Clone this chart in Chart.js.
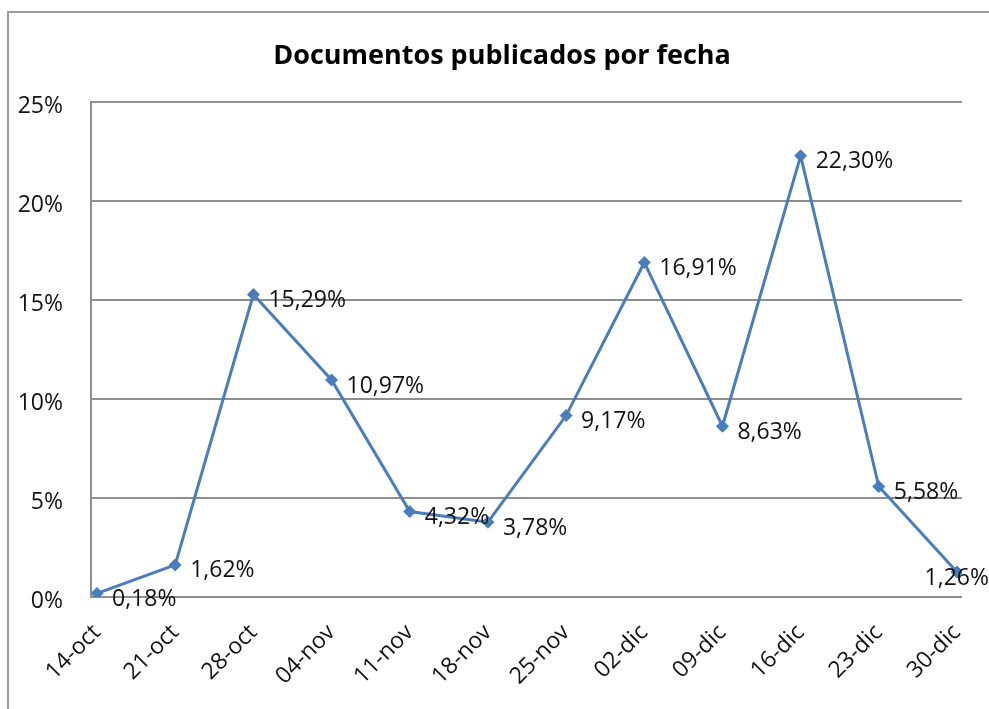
<!DOCTYPE html>
<html>
<head>
<meta charset="utf-8">
<script src="https://cdn.jsdelivr.net/npm/chart.js@4.4.0/dist/chart.umd.min.js"></script>
<style>
	html, body { margin: 0; padding: 0; background: #fff; }
	#frame {
		position: absolute; left: 7px; top: 11px; width: 1000px; height: 720px;
		border: 2px solid #9a9a9a;
	}
	#wrap { position: absolute; left: 0; top: 0; width: 989px; height: 709px; }
</style>
</head>
<body>
<div id="frame"></div>
<div id="wrap"><canvas id="chart" width="989" height="709"></canvas></div>
<script>
const dates = ['14-oct', '21-oct', '28-oct', '04-nov', '11-nov', '18-nov', '25-nov', '02-dic', '09-dic', '16-dic', '23-dic', '30-dic']
const shares = [0.18, 1.62, 15.29, 10.97, 4.32, 3.78, 9.17, 16.91, 8.63, 22.30, 5.58, 1.26]
const yTicks = [0, 5, 10, 15, 20, 25]

const BLUE = '#4a7ebb'
const GRID = '#8e8e8e'
const FONT = '"Open Sans", "DejaVu Sans", sans-serif'

const fmt = (v) => v.toFixed(2).replace('.', ',') + '%'

// labels to the right of every point, pushed back in at the right edge
const pointLabels = {
	id: 'pointLabels',
	afterDatasetsDraw(chart) {
		const ctx = chart.ctx
		const meta = chart.getDatasetMeta(0)
		ctx.save()
		ctx.font = '23px ' + FONT
		ctx.fillStyle = '#111'
		ctx.textBaseline = 'middle'
		ctx.textAlign = 'left'
		meta.data.forEach((p, i) => {
			const txt = fmt(shares[i])
			const w = ctx.measureText(txt).width
			let x = p.x + 15
			if (x + w > chart.width) x = chart.width - w
			ctx.fillText(txt, x, p.y + 6)
		})
		ctx.restore()
	},
}

const chart = new Chart(document.getElementById('chart'), {
	type: 'line',
	data: {
		datasets: [{
			data: shares.map((v, i) => ({ x: i, y: v })),
			borderColor: BLUE,
			backgroundColor: BLUE,
			borderWidth: 3,
			pointStyle: 'rectRot',
			pointRadius: 6,
			pointBorderWidth: 1,
			tension: 0,
		}],
	},
	options: {
		responsive: false,
		animation: false,
		layout: { padding: { left: 15, right: 0, top: 0, bottom: 0 } },
		plugins: {
			legend: { display: false },
			tooltip: { enabled: false },
			title: {
				display: true,
				text: 'Documentos publicados por fecha',
				color: '#000',
				font: { family: FONT, size: 27, weight: 'bold' },
				padding: { top: 40, bottom: 30 },
				lineHeight: 1.2,
			},
		},
		scales: {
			x: {
				type: 'linear',
				min: -0.077,
				max: 11.064,
				afterBuildTicks: (s) => { s.ticks = dates.map((_, i) => ({ value: i })) },
				afterFit: (s) => { s.height = 112; s.paddingRight = 27 },
				grid: { display: false },
				border: { display: false },
				ticks: {
					autoSkip: false,
					minRotation: 45,
					maxRotation: 45,
					padding: 14,
					color: '#111',
					font: { family: FONT, size: 23 },
					callback: (v) => dates[v],
				},
			},
			y: {
				min: 0,
				max: 25,
				afterBuildTicks: (s) => { s.ticks = yTicks.map((v) => ({ value: v })) },
				afterFit: (s) => { s.width = 76 },
				grid: { color: GRID, lineWidth: 2, drawTicks: false },
				border: { display: true, color: GRID, width: 2 },
				ticks: {
					padding: 28,
					labelOffset: 4,
					color: '#111',
					font: { family: FONT, size: 23 },
					callback: (v) => v + '%',
				},
			},
		},
	},
	plugins: [pointLabels],
})
</script>
</body>
</html>
